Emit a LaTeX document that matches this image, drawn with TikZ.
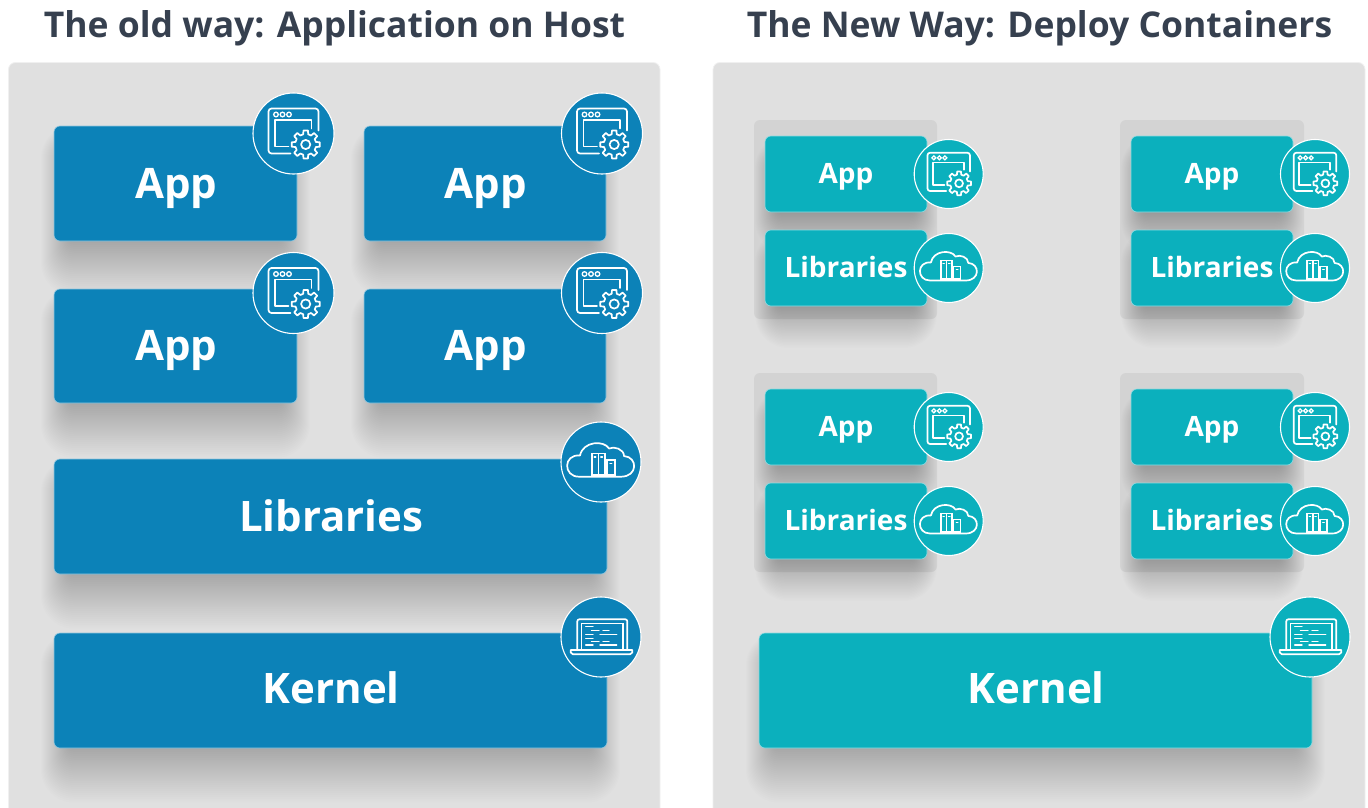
\documentclass[tikz,border=0pt]{standalone}
\usepackage{fontspec}
\setmainfont{Open Sans}
\definecolor{oldblue}{HTML}{0C82B8}
\definecolor{newteal}{HTML}{0BB0BD}
\definecolor{panelgrey}{HTML}{E0E0E0}
\definecolor{contgrey}{HTML}{D3D3D3}
\definecolor{titleink}{HTML}{36404F}
\tikzset{
  panelbox/.style={fill=panelgrey,draw=black!6,line width=.8pt,rounded corners=7pt},
  contbox/.style={fill=contgrey,rounded corners=6pt},
  titletext/.style={font=\bfseries\fontsize{35.5}{40}\selectfont,text=titleink,inner sep=0pt},
  iconline/.style={draw=white,line width=1.7pt,line join=round,line cap=round},
  iconthin/.style={draw=white,line width=1.3pt,line cap=round},
  shadowlayer/.style={fill=black,opacity=.0065,draw=none}
}
% name x0 y0 x1 y1 colour text fontsize baseline-offset
\newcommand{\blockbox}[9]{%
  \pgfmathsetmacro{\bw}{#4-#2}\pgfmathsetmacro{\bh}{#5-#3}\pgfmathsetmacro{\sp}{min(1,\bh/115+.1)}%
  \pgfmathsetmacro{\tx}{(#8-28)/20}%
  \foreach \k in {0,...,27}{%
    \fill[shadowlayer,rounded corners=6pt+\k*1pt] ({#2+14*\sp-\k*1*\sp},{#3+26-\k*1}) rectangle ({#4-14*\sp+\k*1*\sp},{#5+2+\k*1.95*\sp});
  }%
  \node[fill=#6,draw=white!55!#6,line width=.6pt,rounded corners=6pt,inner sep=0pt,
        minimum width=\bw pt,minimum height=\bh pt] (#1) at ({(#2+#4)/2},{(#3+#5)/2}) {};%
  \node[text=white,inner sep=0pt,text height=0pt,text depth=0pt,
        font=\bfseries\fontsize{#8}{#8}\selectfont] (#1t) at ([yshift=-#9 pt,xshift=\tx pt]#1.center) {\smash{#7}};%
}
% name cx cy radius colour
\newcommand{\iconcircle}[5]{%
  \pgfmathsetmacro{\cd}{2*#4}%
  \node[circle,fill=#5,draw=white,line width=1.1pt,inner sep=0pt,minimum size=\cd pt] (#1) at (#2,#3) {};%
}
\newcommand{\appglyph}[3]{%
  \begin{scope}[shift={(#1,#2)},scale=#3]
    \draw[iconline] (-3,20) -- (-22,20) arc[start angle=90,end angle=180,radius=3] -- (-25,-22) arc[start angle=180,end angle=270,radius=3] -- (22,-25) arc[start angle=-90,end angle=0,radius=3] -- (25,-3);
    \draw[iconline] (18,-5) -- (18,-13.5) -- (-18.5,-13.5) -- (-18.5,13) -- (-5,13);
    \foreach \dx in {-17.5,-11,-4.5}{\draw[iconthin] (\dx,-19) circle[radius=2.3];}
    \begin{scope}[shift={(12.2,11)}]
      \draw[iconline] (-14:10.5) \foreach \i in {0,...,7}{ -- ({\i*45-14}:10.5) -- ({\i*45-9}:14.2) -- ({\i*45+9}:14.2) -- ({\i*45+14}:10.5)} -- cycle;
      \draw[iconline] (0,0) circle[radius=4.6];
    \end{scope}
  \end{scope}%
}
\newcommand{\libglyph}[3]{%
  \begin{scope}[shift={(#1,#2)},scale=#3]
    \draw[iconline] (-22,14.7) .. controls (-38,14.7) and (-38,-8) .. (-21,-6.5)
      .. controls (-18,-21) and (3,-22) .. (8,-13.5)
      .. controls (13,-16) and (23,-13) .. (23,-6)
      .. controls (37,-5) and (37,14.7) .. (20,14.7) -- cycle;
    \draw[iconthin,line width=1.6pt] (-9.3,-8.7) rectangle (-2.7,13) (-2.7,-8.7) rectangle (4,13) (5.7,-2) rectangle (14,13);
    \draw[iconthin] (-6.8,-5) -- (-5.2,-5) (-0.2,-5) -- (1.5,-5) (9,1.5) -- (10.8,1.5);
  \end{scope}%
}
\newcommand{\kerglyph}[3]{%
  \begin{scope}[shift={(#1,#2)},scale=#3]
    \draw[iconline] (-23.7,13) -- (-23.7,-15.7) arc[start angle=180,end angle=270,radius=2] -- (24.3,-17.7) arc[start angle=-90,end angle=0,radius=2] -- (26.3,13);
    \draw[iconthin] (-19.5,13) -- (-19.5,-13.5) -- (22,-13.5) -- (22,13);
    \draw[iconline] (-30.3,13) -- (31.3,13) -- (31.3,15.5) -- (29,17.3) -- (-28,17.3) -- (-30.3,15.5) -- cycle;
    \draw[iconthin,line width=1.4pt]
      (-15.3,-10.3) -- (-8,-10.3)
      (-9.5,-6.3) -- (-2,-6.3) (2,-6.3) -- (8,-6.3)
      (-15.3,-2.7) -- (-8,-2.7) (-1,-2.7) -- (15.7,-2.7)
      (-15.3,1.3) -- (-8,1.3)
      (-9.5,4.7) -- (-2,4.7) (2,4.7) -- (8,4.7)
      (-15.3,8) -- (-8,8) (-1,8) -- (15.7,8);
  \end{scope}%
}
\begin{document}
\begin{tikzpicture}[x=1pt,y=-1pt]
\useasboundingbox (0,0) rectangle (1368,808);
\fill[white] (0,0) rectangle (1368,808);
\node[titletext] (titleold) at (334.5,28) {The old way: Application on Host};
\node[titletext] (titlenew) at (1039.5,28) {The New Way: Deploy Containers};
\begin{scope}
\clip (0,0) rectangle (1368,808);
\draw[panelbox] (8.5,62.5) rectangle (660,830);
\draw[panelbox] (713,62.5) rectangle (1365,830);
\end{scope}
% left column
\blockbox{oa}{54}{126}{297}{241}{oldblue}{App}{42}{14.5}
\blockbox{ob}{364}{126}{606}{241}{oldblue}{App}{42}{14.5}
\blockbox{oc}{54}{289}{297}{403}{oldblue}{App}{42}{14.5}
\blockbox{od}{364}{289}{606}{403}{oldblue}{App}{42}{14.5}
\blockbox{ol}{54}{459}{607}{574}{oldblue}{Libraries}{42}{15}
\blockbox{ok}{54}{633}{607}{748}{oldblue}{Kernel}{42}{13}
\iconcircle{ia}{293.5}{133.5}{40.5}{oldblue}\appglyph{293.5}{133.5}{1}
\iconcircle{ib}{602}{133.5}{40.5}{oldblue}\appglyph{602}{133.5}{1}
\iconcircle{ic}{293.5}{293}{40.5}{oldblue}\appglyph{293.5}{293}{1}
\iconcircle{id}{602}{293}{40.5}{oldblue}\appglyph{602}{293}{1}
\iconcircle{il}{601}{462}{40}{oldblue}\libglyph{601}{462}{1}
\iconcircle{ik}{601}{637}{40}{oldblue}\kerglyph{601}{637}{1}
% right column containers
\fill[contbox] (754,120) rectangle (937,319);
\fill[contbox] (1120,120) rectangle (1304,319);
\fill[contbox] (754,373) rectangle (937,572);
\fill[contbox] (1120,373) rectangle (1304,572);
\blockbox{na}{765}{136}{927}{212}{newteal}{App}{28}{9.7}
\blockbox{nb}{765}{230}{927}{306}{newteal}{Libraries}{28}{9.7}
\blockbox{nc}{1131}{136}{1293}{212}{newteal}{App}{28}{9.7}
\blockbox{nd}{1131}{230}{1293}{306}{newteal}{Libraries}{28}{9.7}
\blockbox{ne}{765}{389}{927}{465}{newteal}{App}{28}{9.7}
\blockbox{nf}{765}{483}{927}{559}{newteal}{Libraries}{28}{9.7}
\blockbox{ng}{1131}{389}{1293}{465}{newteal}{App}{28}{9.7}
\blockbox{nh}{1131}{483}{1293}{559}{newteal}{Libraries}{28}{9.7}
\blockbox{nk}{759}{633}{1312}{748}{newteal}{Kernel}{42}{13}
\iconcircle{ja}{948.7}{174}{34.5}{newteal}\appglyph{948.7}{174}{.85}
\iconcircle{jb}{948.7}{268}{34.5}{newteal}\libglyph{948.7}{268}{.85}
\iconcircle{jc}{1315}{174}{34.5}{newteal}\appglyph{1315}{174}{.85}
\iconcircle{jd}{1315}{268}{34.5}{newteal}\libglyph{1315}{268}{.85}
\iconcircle{je}{948.7}{427}{34.5}{newteal}\appglyph{948.7}{427}{.85}
\iconcircle{jf}{948.7}{521}{34.5}{newteal}\libglyph{948.7}{521}{.85}
\iconcircle{jg}{1315}{427}{34.5}{newteal}\appglyph{1315}{427}{.85}
\iconcircle{jh}{1315}{521}{34.5}{newteal}\libglyph{1315}{521}{.85}
\iconcircle{jk}{1310}{637}{40}{newteal}\kerglyph{1310}{637}{1}
\end{tikzpicture}
\end{document}
